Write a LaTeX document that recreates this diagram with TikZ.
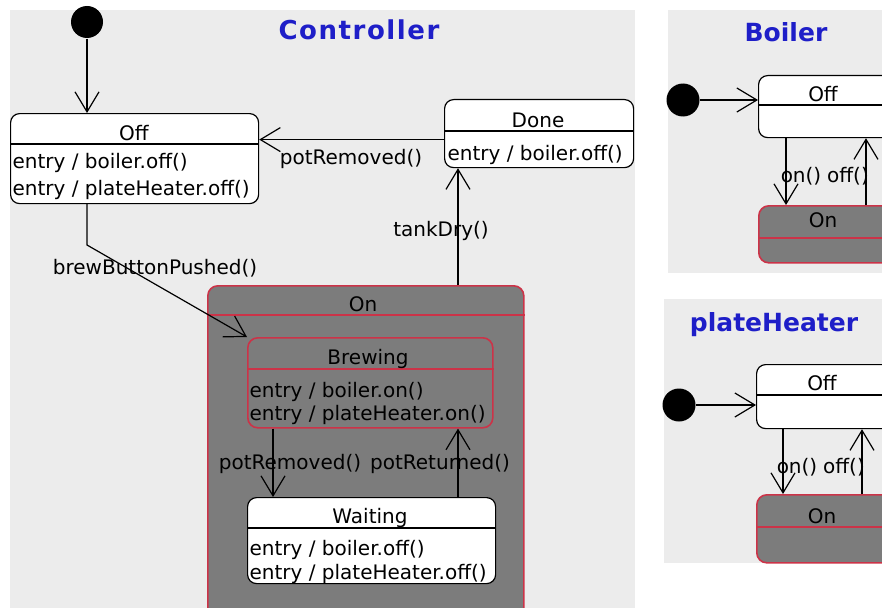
\documentclass[tikz,border=0pt]{standalone}
\usepackage{fontspec}
\setmainfont{DejaVu Sans}
\usetikzlibrary{arrows.meta}
\definecolor{panel}{HTML}{ECECEC}
\definecolor{stgray}{HTML}{7C7C7C}
\definecolor{stred}{HTML}{CC3348}
\definecolor{ttl}{HTML}{1E1EC8}
\begin{document}
\begin{tikzpicture}[x=1pt,y=-1pt,
  line width=1.2pt,
  >={Straight Barb[length=20pt,width=24pt]},
  txt/.style={font=\fontsize{20}{24}\selectfont, inner sep=0pt},
  lbl/.style={txt, anchor=base},
  body/.style={txt, anchor=base west},
  ttlst/.style={font=\fontsize{25}{30}\selectfont\bfseries, text=ttl, inner sep=0pt, anchor=base},
  stbox/.style={draw=black, fill=white, rounded corners=9pt, inner sep=0pt, anchor=north west},
  stact/.style={draw=stred, line width=1.6pt, fill=stgray, rounded corners=10pt, inner sep=0pt, anchor=north west},
  initdot/.style={circle, fill=black, inner sep=0pt},
  pane/.style={fill=panel, draw=none, inner sep=0pt, anchor=north west},
  divb/.style={draw=black},
  divr/.style={draw=stred, line width=1.6pt},
]
\useasboundingbox (0,0) rectangle (882,607);
\clip (0,0) rectangle (882,607);
\fill[white] (0,0) rectangle (882,607);

% panes
\node[pane, minimum width=625pt, minimum height=610pt] (ctrlpane) at (9,9) {};
\node[pane, minimum width=220pt, minimum height=263pt] (boilpane) at (667,9) {};
\node[pane, minimum width=225pt, minimum height=264pt] (platepane) at (663,298) {};

% titles
\node[ttlst, font=\fontsize{26}{30}\selectfont\bfseries\addfontfeature{LetterSpace=6}] (tctrl) at (359,40) {Controller};
\node[ttlst] (tboil) at (786,42) {Boiler};
\node[ttlst] (tplate) at (774,331) {plateHeater};

% ---------- Controller ----------
\node[initdot, minimum size=32pt] (d0) at (87,22) {};

\node[stbox, minimum width=248pt, minimum height=90pt] (off) at (10,113) {};
\draw[divb] ([yshift=-31pt]off.north west) -- ([yshift=-31pt]off.north east);
\node[lbl] (offt) at (134,140) {Off};
\node[body] (offb1) at (12,168) {entry / boiler.off()};
\node[body] (offb2) at (12,195) {entry / plateHeater.off()};

\node[stbox, minimum width=189pt, minimum height=68pt] (done) at (444,99) {};
\draw[divb] ([yshift=-32pt]done.north west) -- ([yshift=-32pt]done.north east);
\node[lbl] (donet) at (538,127) {Done};
\node[body] (doneb1) at (447,160) {entry / boiler.off()};

\node[stact, minimum width=316pt, minimum height=340pt] (on) at (207,285) {};
\draw[divr] ([yshift=-30pt]on.north west) -- ([yshift=-30pt]on.north east);
\node[lbl] (ont) at (363,311) {On};

\node[stact, minimum width=245pt, minimum height=90pt] (brewing) at (247,337) {};
\draw[divr] ([yshift=-32pt]brewing.north west) -- ([yshift=-32pt]brewing.north east);
\node[lbl] (brewt) at (368,364) {Brewing};
\node[body] (brewb1) at (249,397) {entry / boiler.on()};
\node[body] (brewb2) at (249,420) {entry / plateHeater.on()};

\node[stbox, minimum width=248pt, minimum height=86pt] (waiting) at (247,497) {};
\draw[divb] ([yshift=-31pt]waiting.north west) -- ([yshift=-31pt]waiting.north east);
\node[lbl] (waitt) at (370,523) {Waiting};
\node[body] (waitb1) at (249,555) {entry / boiler.off()};
\node[body] (waitb2) at (249,579) {entry / plateHeater.off()};

% Controller transitions
\draw[->] (d0) -- (d0 |- off.north);
\draw[->] ([yshift=-6pt]done.west) -- ([yshift=-6pt]done.west -| off.east);
\node[lbl] (lpr1) at (351,164) {potRemoved()};
\draw[->] (458,0 |- on.north) -- (458,0 |- done.south);
\node[lbl] (ltd) at (441,236) {tankDry()};
\draw[->] (87,0 |- off.south) -- (87,245) -- (brewing.north west);
\node[lbl] (lbb) at (155,274) {brewButtonPushed()};
\draw[->] (273,0 |- brewing.south) -- (273,0 |- waiting.north);
\node[lbl] (lpr2) at (290,469) {potRemoved()};
\draw[->] (458,0 |- waiting.north) -- (458,0 |- brewing.south);
\node[lbl] (lpt) at (440,469) {potReturned()};

% ---------- Boiler ----------
\node[initdot, minimum size=33pt] (b0) at (683,100) {};
\node[stbox, minimum width=150pt, minimum height=62pt] (bOff) at (758,75) {};
\draw[divb] ([yshift=-30pt]bOff.north west) -- ([yshift=-30pt]bOff.north east);
\node[lbl] (bofft) at (823,102) {Off};
\node[stact, minimum width=150pt, minimum height=57pt] (bOn) at (758,205) {};
\draw[divr] ([yshift=-33pt]bOn.north west) -- ([yshift=-33pt]bOn.north east);
\node[lbl] (bont) at (823,227) {On};
\draw[->] (b0) -- (b0 -| bOff.west);
\draw[->] (786,0 |- bOff.south) -- (786,0 |- bOn.north);
\draw[->] (866,0 |- bOn.north) -- (866,0 |- bOff.south);
\node[lbl] (bl1) at (801,182) {on()};
\node[lbl] (bl2) at (848,182) {off()};

% ---------- plateHeater ----------
\node[initdot, minimum size=33pt] (p0) at (679,405) {};
\node[stbox, minimum width=150pt, minimum height=64pt] (pOff) at (756,364) {};
\draw[divb] ([yshift=-31pt]pOff.north west) -- ([yshift=-31pt]pOff.north east);
\node[lbl] (pofft) at (822,390) {Off};
\node[stact, minimum width=150pt, minimum height=68pt] (pOn) at (756,494) {};
\draw[divr] ([yshift=-33pt]pOn.north west) -- ([yshift=-33pt]pOn.north east);
\node[lbl] (pont) at (822,523) {On};
\draw[->] (p0) -- (p0 -| pOff.west);
\draw[->] (783,0 |- pOff.south) -- (783,0 |- pOn.north);
\draw[->] (862,0 |- pOn.north) -- (862,0 |- pOff.south);
\node[lbl] (pl1) at (797,473) {on()};
\node[lbl] (pl2) at (844,473) {off()};
\end{tikzpicture}
\end{document}
